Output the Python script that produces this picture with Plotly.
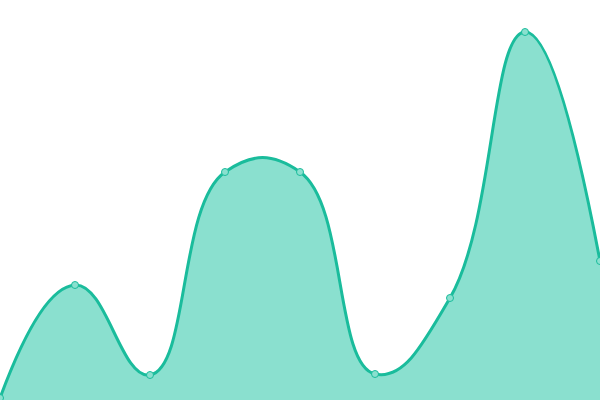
import plotly.graph_objects as go

x_vals = [0, 1, 2, 3, 4, 5, 6, 7, 8]
y_vals = [2, 115, 25, 228, 228, 26, 102, 368, 139]

fig = go.Figure(go.Scatter(
    x=x_vals, y=y_vals,
    mode="lines+markers",
    line=dict(shape="spline", smoothing=1.3, color="#1abc9c", width=3),
    fill="tozeroy",
    fillcolor="#8ae0cf",
    marker=dict(size=7, color="#8ae0cf", line=dict(color="#1abc9c", width=1)),
    cliponaxis=False,
))
fig.update_layout(
    width=600, height=400,
    margin=dict(l=0, r=0, t=0, b=0),
    paper_bgcolor="white", plot_bgcolor="white",
    showlegend=False,
    xaxis=dict(range=[0, 8], visible=False, fixedrange=True),
    yaxis=dict(range=[0, 400], visible=False, fixedrange=True),
)
fig.write_html(
    "out.html",
    config={"displayModeBar": False},
    post_script="document.body.style.margin='0';document.body.style.overflow='hidden';",
)
